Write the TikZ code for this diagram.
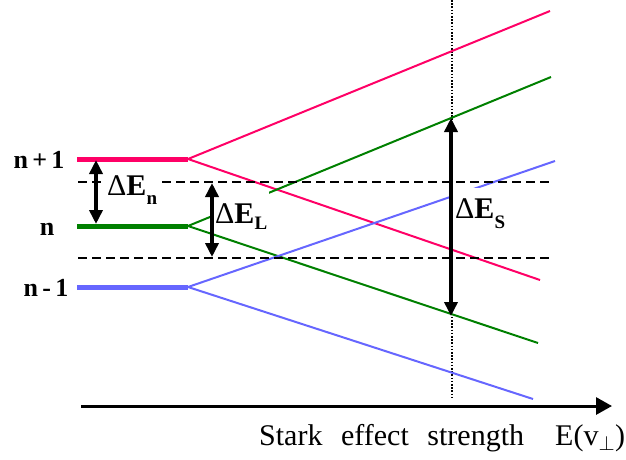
\documentclass[tikz,border=0pt]{standalone}
\usepackage{fontspec}
\setmainfont{Liberation Serif}
\usetikzlibrary{arrows.meta}
\definecolor{pinkc}{RGB}{255,0,102}
\definecolor{greenc}{RGB}{0,128,0}
\definecolor{bluec}{RGB}{102,102,255}
\tikzset{
  fan/.style={line width=2pt},
  levelline/.style={line width=5pt},
  sepline/.style={line width=2.2pt, dash pattern=on 9pt off 5pt},
  dblarrow/.style={line width=4pt, {Triangle[length=14pt,width=13pt]}-{Triangle[length=14pt,width=13pt]}},
  lvlab/.style={font=\fontsize{26}{26}\selectfont\bfseries, inner sep=0pt, anchor=base},
  dlab/.style={fill=white, inner ysep=0pt, anchor=base west, font=\fontsize{30}{30}\selectfont},
  axlab/.style={font=\fontsize{30}{30}\selectfont, inner sep=0pt, anchor=base west}
}
\newcommand{\dE}[2]{Δ\textbf{E}\raisebox{#2}{\fontsize{19}{19}\selectfont\textbf{#1}}}
\begin{document}
\begin{tikzpicture}[x=1pt,y=-1pt]
\useasboundingbox (0,0) rectangle (626,459);
% fork points and ends
\coordinate (pF) at (188,159);
\coordinate (gF) at (188,226);
\coordinate (bF) at (188,287);
\coordinate (pU) at (550,11);
\coordinate (pD) at (540,280);
\coordinate (gU) at (551,77);
\coordinate (gD) at (538,343);
\coordinate (bU) at (555,161);
\coordinate (bD) at (533,399);
% dotted vertical
\coordinate (vT) at (452,0);
\coordinate (vB) at (452,399);
\draw[line width=2pt, dash pattern=on 1.6pt off 1.6pt] (vT) -- (vB);
% fan lines
\draw[fan, pinkc] (pF) -- (pU);
\draw[fan, pinkc] (pF) -- (pD);
\draw[fan, greenc] (gF) -- (gU);
\draw[fan, greenc] (gF) -- (gD);
\draw[fan, bluec] (bF) -- (bU);
\draw[fan, bluec] (bF) -- (bD);
% dashed lines
\coordinate (d1a) at (78,182); \coordinate (d1b) at (550,182);
\coordinate (d2a) at (78,258); \coordinate (d2b) at (550,258);
\draw[sepline] (d1a) -- (d1b);
\draw[sepline] (d2a) -- (d2b);
% delta labels (opaque)
\node[dlab, inner xsep=3pt, text height=22pt, text depth=11pt] (lEn) at (104,195) {\dE{n}{-9pt}};
\node[dlab, inner xsep=2pt, text height=34pt, text depth=10pt] (lEL) at (213,223) {\dE{L}{-6pt}};
\node[dlab, inner xsep=3pt, text height=30pt, text depth=12pt] (lES) at (452,218) {\dE{S}{-10pt}};
% level lines
\coordinate (pL) at (77,159);
\coordinate (gL) at (77,226);
\coordinate (bL) at (77,287);
\draw[levelline, pinkc] (pL) -- (pF);
\draw[levelline, greenc] (gL) -- (gF);
\draw[levelline, bluec] (bL) -- (bF);
% double arrows
\coordinate (nT) at (96,160); \coordinate (nB) at (96,224);
\coordinate (LT) at (212,183); \coordinate (LB) at (212,257);
\coordinate (sT) at (451,118); \coordinate (sB) at (451,316);
\draw[dblarrow] (nT) -- (nB);
\draw[dblarrow] (LT) -- (LB);
\draw[dblarrow] (sT) -- (sB);
% level labels
\node[lvlab] (tnp) at (39,168) {n\,+\,1};
\node[lvlab] (tn) at (47,235) {n};
\node[lvlab] (tnm) at (46,296) {n\,-\,1};
% axis
\coordinate (ax0) at (81,406);
\coordinate (ax1) at (612,406);
\draw[line width=3pt, -{Triangle[length=16pt,width=17pt]}] (ax0) -- (ax1);
\node[axlab] (axt) at (259,445) {Stark\hspace{0.62em}effect\hspace{0.62em}strength};
\node[axlab] (axe) at (555,445) {E(v$_{\perp}$)};
\end{tikzpicture}
\end{document}
